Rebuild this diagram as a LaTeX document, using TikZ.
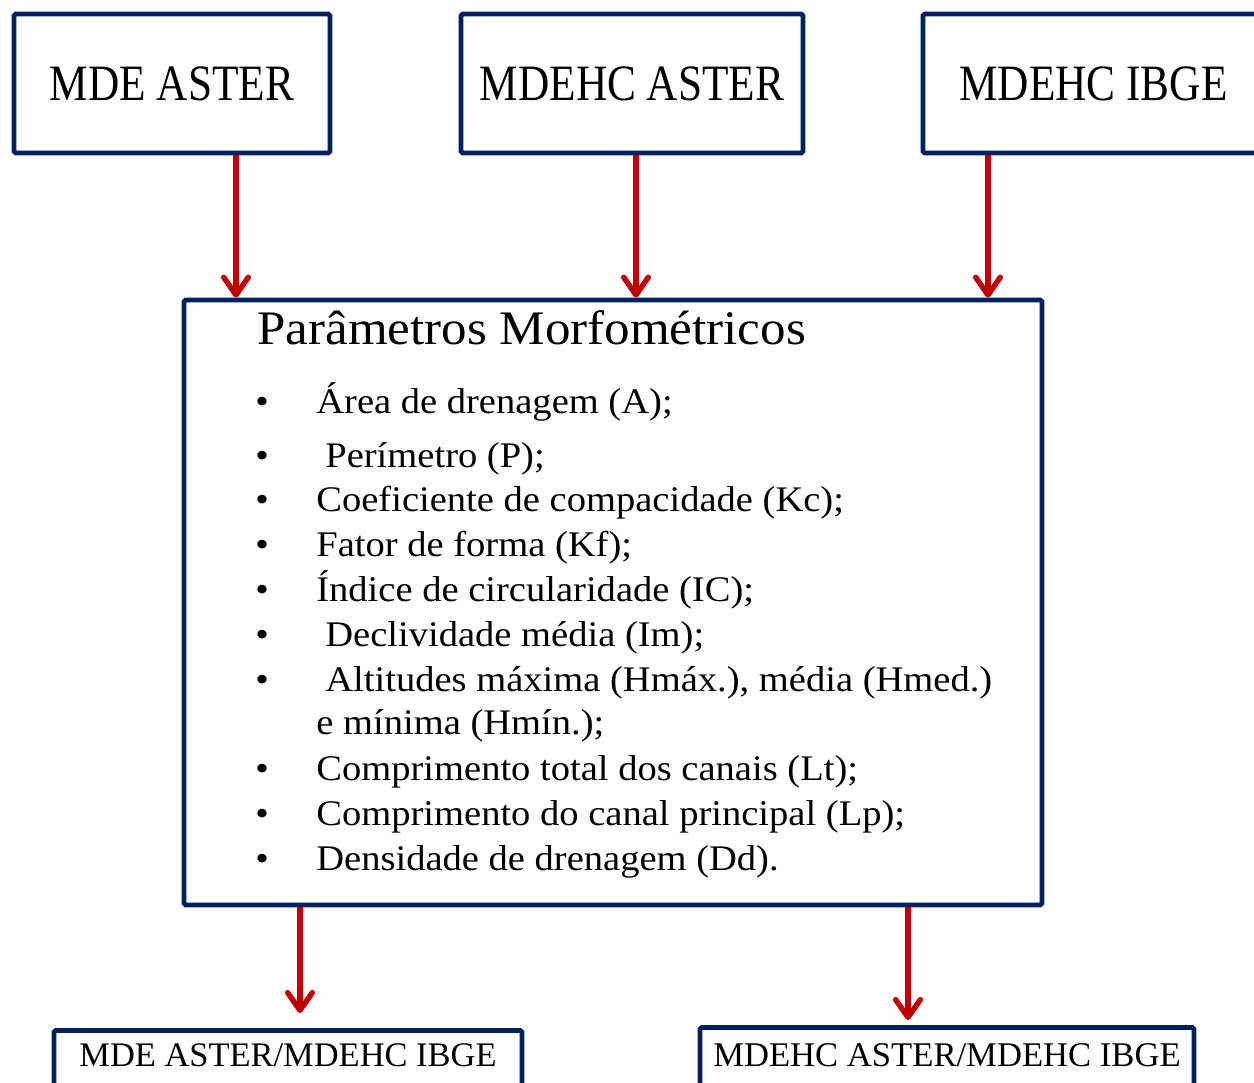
\documentclass[tikz,border=0pt]{standalone}
\usepackage{fontspec}
\setmainfont{Liberation Serif}
\newfontfamily\caixafont[FakeStretch=0.85]{Liberation Serif}
\newfontfamily\titfont[FakeStretch=1.06]{Liberation Serif}
\newfontfamily\listfont[FakeStretch=1.07]{Liberation Serif}
\usepackage{tikz}
\usetikzlibrary{arrows.meta}
\definecolor{azulcaixa}{RGB}{0,32,96}
\definecolor{vermelho}{RGB}{192,0,0}

\begin{document}
\begin{tikzpicture}[>={Straight Barb[length=10pt, width=14pt, round]},
  caixa/.style={draw=azulcaixa, line width=2.7pt, rounded corners=1pt, inner sep=0pt},
  seta/.style={->, draw=vermelho, line width=3.1pt},
  item/.style={anchor=base west, inner sep=0pt, font=\listfont\fontsize{20.5}{24}\selectfont},
  pto/.style={anchor=base, inner sep=0pt, font=\listfont\fontsize{20.5}{24}\selectfont}]
\useasboundingbox (0,0) rectangle (25.08,-21.64);
\clip (0,0) rectangle (25.08,-21.64);
\node[caixa, minimum width=6.32cm, minimum height=2.78cm, font=\caixafont\fontsize{29}{34}\selectfont] (mde) at (3.44,-1.67) {MDE ASTER};
\node[caixa, minimum width=6.84cm, minimum height=2.78cm, font=\caixafont\fontsize{29}{34}\selectfont] (mdehca) at (12.64,-1.67) {MDEHC ASTER};
\node[caixa, minimum width=6.82cm, minimum height=2.78cm, font=\caixafont\fontsize{29}{34}\selectfont] (mdehci) at (21.87,-1.67) {MDEHC IBGE};
\node[caixa, minimum width=17.16cm, minimum height=12.1cm] (morfo) at (12.26,-12.05) {};
\node[anchor=base west, inner sep=0pt, font=\titfont\fontsize{27.4}{32}\selectfont] (tit) at (5.14,-6.88) {Parâmetros Morfométricos};
\node[pto] (b1) at (5.24,-8.26) {\textbullet};
\node[item] (i1) at (6.32,-8.26) {Área de drenagem (A);};
\node[pto] (b2) at (5.24,-9.34) {\textbullet};
\node[item] (i2) at (6.50,-9.34) {Perímetro (P);};
\node[pto] (b3) at (5.24,-10.22) {\textbullet};
\node[item] (i3) at (6.32,-10.22) {Coeficiente de compacidade (Kc);};
\node[pto] (b4) at (5.24,-11.12) {\textbullet};
\node[item] (i4) at (6.32,-11.12) {Fator de forma (Kf);};
\node[pto] (b5) at (5.24,-12.02) {\textbullet};
\node[item] (i5) at (6.32,-12.02) {Índice de circularidade (IC);};
\node[pto] (b6) at (5.24,-12.92) {\textbullet};
\node[item] (i6) at (6.50,-12.92) {Declividade média (Im);};
\node[pto] (b7) at (5.24,-13.82) {\textbullet};
\node[item] (i7) at (6.50,-13.82) {Altitudes máxima (Hmáx.), média (Hmed.)};
\node[item] (i8) at (6.32,-14.68) {e mínima (Hmín.);};
\node[pto] (b9) at (5.24,-15.60) {\textbullet};
\node[item] (i9) at (6.32,-15.60) {Comprimento total dos canais (Lt);};
\node[pto] (b10) at (5.24,-16.50) {\textbullet};
\node[item] (i10) at (6.32,-16.50) {Comprimento do canal principal (Lp);};
\node[pto] (b11) at (5.24,-17.40) {\textbullet};
\node[item] (i11) at (6.32,-17.40) {Densidade de drenagem (Dd).};
\node[caixa, anchor=north, minimum width=9.36cm, minimum height=1.6cm] (compa) at (5.76,-20.56) {};
\node[inner sep=0pt, font=\fontsize{19.6}{24}\selectfont] (tcompa) at ([yshift=-0.55cm]compa.north) {MDE ASTER/MDEHC IBGE};
\node[caixa, anchor=north, minimum width=9.88cm, minimum height=1.6cm] (compb) at (18.94,-20.50) {};
\node[inner sep=0pt, font=\fontsize{19.7}{24}\selectfont] (tcompb) at ([yshift=-0.6cm]compb.north) {MDEHC ASTER/MDEHC IBGE};
\draw[seta] ([xshift=1.28cm]mde.south) -- ([xshift=1.28cm]mde.south |- morfo.north);
\draw[seta] ([xshift=0.08cm]mdehca.south) -- ([xshift=0.08cm]mdehca.south |- morfo.north);
\draw[seta] ([xshift=-2.11cm]mdehci.south) -- ([xshift=-2.11cm]mdehci.south |- morfo.north);
\draw[seta, shorten >=0.3cm] ([xshift=-6.26cm]morfo.south) -- ([xshift=-6.26cm]morfo.south |- compa.north);
\draw[seta, shorten >=0.1cm] ([xshift=5.9cm]morfo.south) -- ([xshift=5.9cm]morfo.south |- compb.north);
\end{tikzpicture}
\end{document}
